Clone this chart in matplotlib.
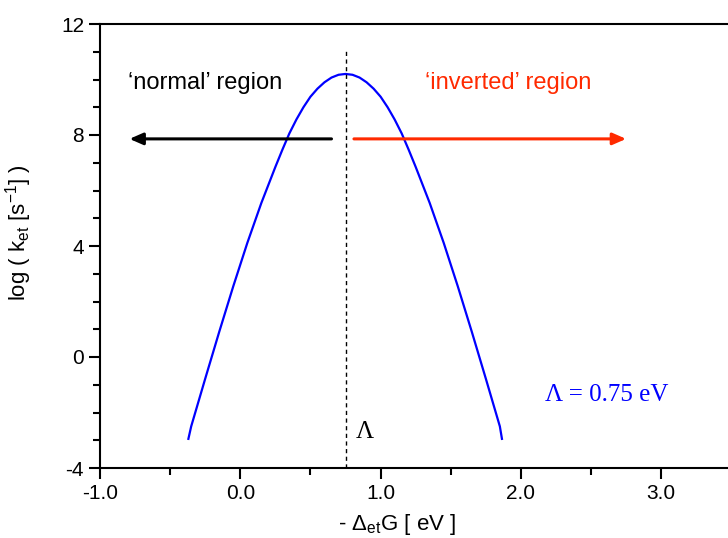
import numpy as np
import matplotlib.pyplot as plt
from matplotlib.ticker import MultipleLocator

# Marcus curve
neg_dG = [-0.37, -0.35, -0.25, -0.15, -0.05, 0.05, 0.15, 0.25, 0.30, 0.35,
          0.40, 0.45, 0.50, 0.55, 0.60, 0.65, 0.70, 0.75, 0.80, 0.85, 0.90,
          0.95, 1.00, 1.05, 1.10, 1.15, 1.20, 1.25, 1.35, 1.45, 1.55, 1.65,
          1.75, 1.85, 1.865]
log_k = [-2.95, -2.5, -0.78, 0.91, 2.55, 4.11, 5.55, 6.85, 7.47, 8.06,
         8.56, 9.0, 9.38, 9.67, 9.9, 10.07, 10.17, 10.2, 10.17, 10.07, 9.9,
         9.67, 9.38, 9.0, 8.56, 8.06, 7.47, 6.85, 5.55, 4.11, 2.55, 0.91,
         -0.78, -2.5, -2.95]

lam = 0.75
x_ticks = [-1.0, 0.0, 1.0, 2.0, 3.0]
y_ticks = [-4, 0, 4, 8, 12]

plt.rcParams['font.family'] = ['Liberation Sans', 'DejaVu Sans']
plt.rcParams['mathtext.fontset'] = 'custom'
plt.rcParams['mathtext.rm'] = 'Liberation Sans'
plt.rcParams['mathtext.it'] = 'Liberation Sans'
plt.rcParams['axes.unicode_minus'] = False

fig = plt.figure(figsize=(7.28, 5.38), dpi=100)
ax = fig.add_axes([100/728, 70/538, 628/728, 444/538])

ax.plot(neg_dG, log_k, color='#0000ff', lw=1.6)
ax.plot([lam, lam], [-4, 11.1], color='black', lw=1, ls=(0, (3, 2.5)))

# region arrows
ax.annotate('', xy=(-0.79, 7.86), xytext=(0.65, 7.86),
            arrowprops=dict(arrowstyle='-|>,head_length=0.8,head_width=0.35',
                            color='black', lw=2.2, shrinkA=0, shrinkB=0))
ax.annotate('', xy=(2.75, 7.86), xytext=(0.81, 7.86),
            arrowprops=dict(arrowstyle='-|>,head_length=0.8,head_width=0.35',
                            color='#ff2a00', lw=2.2, shrinkA=0, shrinkB=0))
ax.text(-0.8, 9.87, '\u2018normal\u2019 region', fontsize=17, color='black',
        va='center', ha='left')
ax.text(1.316, 9.87, '\u2018inverted\u2019 region', fontsize=17, color='#ff2a00',
        va='center', ha='left')
ax.text(0.82, -2.7, '\u039b', fontsize=18, family='Liberation Serif',
        va='center', ha='left')
ax.text(2.17, -1.37, '\u039b = 0.75 eV', fontsize=18, family='Liberation Serif',
        color='#0000ff', va='center', ha='left')

ax.set_xlim(-1.0, (728-100)/140.3 - 1.0)
ax.set_ylim(-4, 12)
ax.set_xticks(x_ticks)
ax.set_xticklabels(['%.1f' % v for v in x_ticks])
ax.set_yticks(y_ticks)
ax.xaxis.set_minor_locator(MultipleLocator(0.5))
ax.yaxis.set_minor_locator(MultipleLocator(1))
ax.tick_params(which='major', direction='out', length=8, width=1.5, labelsize=15)
ax.tick_params(which='minor', direction='out', length=5, width=1.5)
ax.tick_params(top=False, right=False)
ax.spines['right'].set_visible(False)
for s in ['left', 'bottom', 'top']:
    ax.spines[s].set_linewidth(1.5)

ax.set_xlabel(r'- $\Delta_{\rm et}$G [ eV ]', fontsize=16)
ax.set_ylabel(r'log ( k$_{\rm et}$ [s$^{\rm {-}1}$] )', fontsize=16)
ax.xaxis.set_label_coords(0.473, -0.1)
ax.yaxis.set_label_coords(-0.105, 0.53)

fig.savefig('out.png', dpi=100)
